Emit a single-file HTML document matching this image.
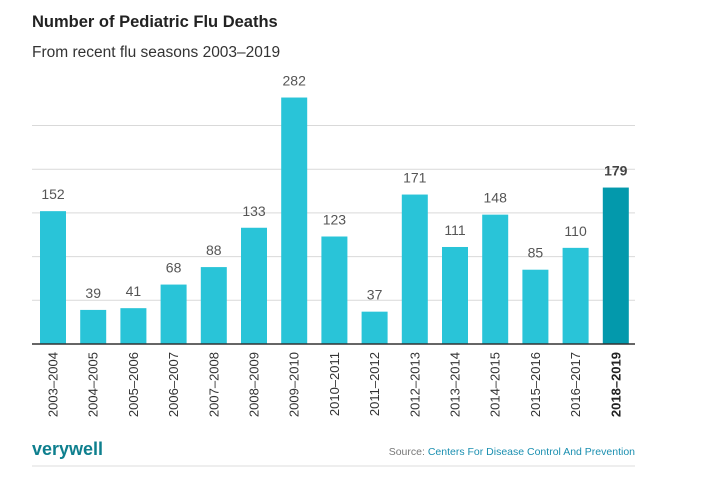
<!DOCTYPE html>
<html><head><meta charset="utf-8"><style>
body{margin:0;background:#fff;width:703px;height:496px;overflow:hidden;font-family:"Liberation Sans",sans-serif}
</style></head><body>
<svg width="703" height="496" xmlns="http://www.w3.org/2000/svg">
<text x="32" y="27" font-size="16.5" font-weight="bold" fill="#222">Number of Pediatric Flu Deaths</text>
<text x="32" y="57" font-size="15.5" fill="#333">From recent flu seasons 2003–2019</text>
<g id="grid"></g>
<g id="bars"></g>
<line x1="32" y1="344" x2="635" y2="344" stroke="#333" stroke-width="1.5"/>
<text x="32" y="455" font-size="18" font-weight="bold" fill="#0e7f8e">verywell</text>
<text x="635" y="455" font-size="10.5" text-anchor="end" fill="#777">Source: <tspan fill="#1a8fb0">Centers For Disease Control And Prevention</tspan></text>
<line x1="32" y1="466" x2="635" y2="466" stroke="#ddd" stroke-width="1"/>
</svg>
<script>
const categories=["2003–2004","2004–2005","2005–2006","2006–2007","2007–2008","2008–2009","2009–2010","2010–2011","2011–2012","2012–2013","2013–2014","2014–2015","2015–2016","2016–2017","2018–2019"];
const deaths=[152,39,41,68,88,133,282,123,37,171,111,148,85,110,179];
const gridTicks=[50,100,150,200,250];
const NS="http://www.w3.org/2000/svg";
const y0=344, k=0.874;
function yScale(v){return y0-v*k;}
function xScale(i){return 40+i*40.2;}
const grid=document.getElementById('grid'), bars=document.getElementById('bars');
gridTicks.forEach(t=>{
 const l=document.createElementNS(NS,'line');
 
 
 l.setAttribute('x1',32);l.setAttribute('x2',635);
 l.setAttribute('y1',yScale(t));l.setAttribute('y2',yScale(t));
 l.setAttribute('stroke','#d9d9d9');l.setAttribute('stroke-width','1');
 grid.appendChild(l);
});
deaths.forEach((v,i)=>{
 const last=i===deaths.length-1;
 const x=xScale(i), w=26, y=yScale(v);
 const r=document.createElementNS(NS,'rect');
 
 
 r.setAttribute('x',x);r.setAttribute('y',y);r.setAttribute('width',w);r.setAttribute('height',y0-y);
 r.setAttribute('fill',last?'#0399ac':'#29c4d8');
 bars.appendChild(r);
 const t=document.createElementNS(NS,'text');
 
 
 t.setAttribute('x',x+w/2);t.setAttribute('y',y-12);
 t.setAttribute('text-anchor','middle');t.setAttribute('font-size','14');
 t.setAttribute('fill',last?'#444':'#555');
 if(last)t.setAttribute('font-weight','bold');
 t.textContent=v;
 bars.appendChild(t);
 const c=document.createElementNS(NS,'text');
 
 
 const cx=x+w/2+4.5, cy=352;
 c.setAttribute('x',cx);c.setAttribute('y',cy);
 c.setAttribute('transform','rotate(-90 '+cx+' '+cy+')');
 c.setAttribute('text-anchor','end');c.setAttribute('font-size','13');
 c.setAttribute('fill',last?'#222':'#333');
 if(last)c.setAttribute('font-weight','bold');
 c.textContent=categories[i];
 bars.appendChild(c);
});
</script>
</body></html>
